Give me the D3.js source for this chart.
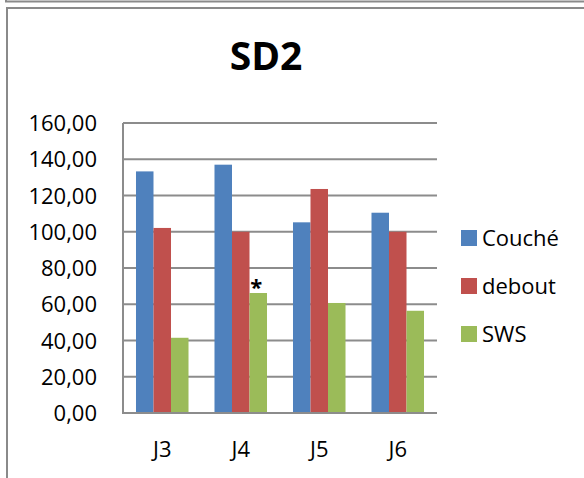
<!DOCTYPE html>
<html>
<head>
<meta charset="utf-8">
<script src="https://cdn.jsdelivr.net/npm/d3@7"></script>
<style>
  html, body { margin: 0; padding: 0; background: #fff; }
  svg { display: block; }
  text { font-family: "Open Sans", "Noto Sans", sans-serif; fill: #000; }
</style>
</head>
<body>
<script>
// SD2 — three postures per session
const categories = ["J3", "J4", "J5", "J6"];
const seriesNames = ["Couché", "debout", "SWS"];
const couche = [133.3, 137.0, 105.2, 110.5];
const debout = [102.1, 100.0, 123.6, 100.0];
const sws = [41.5, 66.2, 60.7, 56.4];
const seriesColors = ["#4f81bd", "#c0504d", "#9bbb59"];
const yTicks = [0, 20, 40, 60, 80, 100, 120, 140, 160];
const markedCategory = "J4";   // significance marker above SWS
const markedSeries = "SWS";

const values = [couche, debout, sws];
const W = 584, H = 478;
const plot = { left: 123, right: 437, top: 123, bottom: 413 };

const svg = d3.select("body").append("svg").attr("width", W).attr("height", H);

// outer frames
const frame = "#8a8a8a";
svg.append("path").attr("d", "M6,0 V1.5 H584").attr("fill", "none").attr("stroke", frame).attr("stroke-width", 2);
svg.append("path").attr("d", "M7,478 V8 H584").attr("fill", "none").attr("stroke", frame).attr("stroke-width", 2);

// title
svg.append("text").attr("x", 266).attr("y", 70).attr("text-anchor", "middle")
  .style("font-size", "39px").style("font-weight", "bold").text("SD2");

const x0 = d3.scaleBand().domain(categories).range([plot.left, plot.right])
  .paddingInner(0.331).paddingOuter(0.1655);
const x1 = d3.scaleBand().domain(seriesNames).range([0, x0.bandwidth()]);
const y = d3.scaleLinear().domain([0, 160]).range([plot.bottom, plot.top]);

// gridlines
svg.append("g").selectAll("line").data(yTicks.filter(d => d > 0)).join("line")
  .attr("x1", plot.left).attr("x2", plot.right)
  .attr("y1", d => y(d)).attr("y2", d => y(d))
  .attr("stroke", "#8c8c8c").attr("stroke-width", 2);

// y axis labels
const yAxis = d3.axisLeft(y).tickValues(yTicks).tickSize(0).tickPadding(26)
  .tickFormat(d => d3.format(".2f")(d).replace(".", ","));
const gy = svg.append("g").attr("transform", `translate(${plot.left},0)`).call(yAxis);
gy.select(".domain").remove();
gy.selectAll("text").style("font-size", "22px").attr("dy", "0.35em");

// bars
const groups = svg.append("g").selectAll("g").data(categories).join("g")
  .attr("transform", c => `translate(${x0(c)},0)`);
groups.selectAll("rect").data((c, i) => seriesNames.map((s, k) => ({ s, k, v: values[k][i] })))
  .join("rect")
  .attr("x", d => x1(d.s)).attr("width", x1.bandwidth())
  .attr("y", d => y(d.v)).attr("height", d => y(0) - y(d.v))
  .attr("fill", d => seriesColors[d.k]);

// axis lines
svg.append("line").attr("x1", plot.left).attr("x2", plot.left).attr("y1", plot.top).attr("y2", plot.bottom)
  .attr("stroke", "#8c8c8c").attr("stroke-width", 2);
svg.append("line").attr("x1", plot.left - 1).attr("x2", plot.right).attr("y1", plot.bottom).attr("y2", plot.bottom)
  .attr("stroke", "#8c8c8c").attr("stroke-width", 2);

// x axis labels
const xAxis = d3.axisBottom(x0).tickSize(0).tickPadding(0);
const gx = svg.append("g").attr("transform", `translate(0,${plot.bottom})`).call(xAxis);
gx.select(".domain").remove();
gx.selectAll("text").style("font-size", "22px").attr("y", 36).attr("dy", "0.35em");

// significance marker
const ci = categories.indexOf(markedCategory), si = seriesNames.indexOf(markedSeries);
svg.append("text")
  .attr("x", x0(markedCategory) + x1(markedSeries) + x1.bandwidth() / 2 - 2)
  .attr("y", y(values[si][ci]) + 2)
  .attr("text-anchor", "middle").style("font-size", "22px").style("font-weight", "bold").text("*");

// legend
const legend = svg.append("g").selectAll("g").data(seriesNames).join("g")
  .attr("transform", (d, i) => `translate(461,${230 + i * 48})`);
legend.append("rect").attr("width", 16).attr("height", 16).attr("fill", (d, i) => seriesColors[i]);
legend.append("text").attr("x", 21).attr("y", 8).attr("dy", "0.35em")
  .style("font-size", "22px").text(d => d);
</script>
</body>
</html>
